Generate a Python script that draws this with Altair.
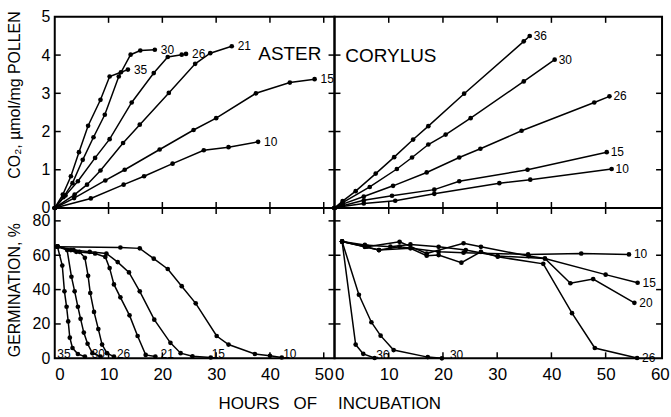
import altair as alt
import pandas as pd

FONT = "Liberation Sans Narrow, Liberation Sans, DejaVu Sans, sans-serif"

# ---------------- ASTER : CO2 output (hours, umol/mg) ----------------
A_CO2_35_H = [0, 1.5, 3.0, 4.5, 6.2, 8.5, 10.2, 12.3, 13.6]
A_CO2_35_V = [0, 0.35, 0.83, 1.46, 2.15, 2.83, 3.44, 3.55, 3.62]
A_CO2_30_H = [0, 1.6, 3.3, 5.2, 7.2, 9.3, 11.9, 14.1, 15.9, 18.6]
A_CO2_30_V = [0, 0.28, 0.65, 1.26, 1.85, 2.44, 3.44, 4.01, 4.12, 4.14]
A_CO2_26_H = [0, 2.0, 4.3, 7.5, 10.2, 14.3, 18.4, 21.0, 23.6, 24.4]
A_CO2_26_V = [0, 0.33, 0.70, 1.31, 1.80, 2.76, 3.53, 3.95, 4.01, 4.03]
A_CO2_21_H = [0, 3.7, 6.0, 8.5, 12.7, 15.8, 21.2, 26.1, 28.9, 32.9]
A_CO2_21_V = [0, 0.35, 0.61, 0.98, 1.70, 2.18, 3.01, 3.77, 4.05, 4.23]
A_CO2_15_H = [0, 3.6, 9.4, 13.0, 19.5, 25.8, 30.0, 37.4, 43.7, 48.3]
A_CO2_15_V = [0, 0.26, 0.72, 1.00, 1.53, 2.04, 2.35, 3.00, 3.28, 3.37]
A_CO2_10_H = [0, 6.7, 12.8, 16.6, 21.9, 27.7, 32.3, 37.8]
A_CO2_10_V = [0, 0.25, 0.61, 0.83, 1.16, 1.51, 1.59, 1.73]

# ---------------- CORYLUS : CO2 output ----------------
C_CO2_36_H = [0, 1.5, 3.9, 7.6, 11.0, 14.5, 17.3, 23.9, 34.9, 36.0]
C_CO2_36_V = [0, 0.18, 0.44, 0.90, 1.33, 1.79, 2.14, 2.99, 4.36, 4.50]
C_CO2_30_H = [0, 1.5, 6.5, 11.5, 14.3, 17.3, 20.5, 25.1, 34.9, 40.6]
C_CO2_30_V = [0, 0.14, 0.55, 1.02, 1.32, 1.66, 1.92, 2.35, 3.31, 3.88]
C_CO2_26_H = [0, 1.5, 5.4, 10.8, 17.0, 23.0, 26.9, 34.5, 47.9, 50.7]
C_CO2_26_V = [0, 0.10, 0.30, 0.58, 0.93, 1.32, 1.55, 2.02, 2.76, 2.92]
C_CO2_15_H = [0, 1.5, 5.4, 10.6, 18.4, 23.0, 35.6, 50.2]
C_CO2_15_V = [0, 0.06, 0.20, 0.32, 0.48, 0.70, 1.00, 1.46]
C_CO2_10_H = [0, 1.5, 5.4, 11.2, 18.4, 30.4, 36.1, 51.1]
C_CO2_10_V = [0, 0.04, 0.12, 0.19, 0.37, 0.65, 0.74, 1.02]

# ---------------- ASTER : germination (%) ----------------
A_G_35_H = [0.5, 1.4, 1.8, 2.2, 2.5, 2.8, 3.3, 4.3, 5.6]
A_G_35_V = [65, 54, 39, 30, 21.5, 12, 6, 2.5, 1]
A_G_30_H = [0.5, 2.3, 3.1, 3.7, 4.3, 4.8, 5.4, 6.1, 7.0, 8.5]
A_G_30_V = [65, 63, 47.5, 39, 30, 23, 15, 8.5, 3, 1]
A_G_26_H = [0.5, 3.0, 4.6, 5.6, 6.2, 6.6, 7.3, 8.1, 8.8, 9.7, 11.0]
A_G_26_V = [65, 63, 62, 58.5, 48, 38, 27, 17, 8, 3, 1]
A_G_21_H = [0.5, 4.0, 7.5, 9.4, 10.2, 11.0, 12.2, 13.9, 15.4, 16.9, 18.7]
A_G_21_V = [65, 62, 61, 59, 52.5, 43, 35.5, 25, 13, 2, 1]
A_G_15_H = [0.5, 3.5, 6.5, 9.6, 11.7, 13.8, 15.8, 18.5, 21.5, 23.4, 25.6, 29.0]
A_G_15_V = [65, 63, 62, 61, 56, 50, 39, 22.5, 9, 3, 1.2, 0.5]
A_G_10_H = [0.5, 12.2, 15.8, 18.4, 21.0, 23.6, 26.2, 30.1, 32.3, 37.2, 40.0, 42.2]
A_G_10_V = [65, 64.5, 64, 58, 52, 42, 32, 13, 8, 2.5, 1.5, 0.5]

# ---------------- CORYLUS : germination (%) ----------------
C_G_36_H = [1.4, 3.9, 5.3, 7.4]
C_G_36_V = [68, 8, 2.6, 0.2]
C_G_30_H = [1.4, 4.5, 6.8, 8.5, 10.9, 17.2, 19.8]
C_G_30_V = [68, 37, 21, 13.2, 4.8, 0.7, 0]
C_G_10_H = [1.4, 5.6, 8.2, 12.0, 19.2, 23.8, 35.7, 45.5, 54.3]
C_G_10_V = [68, 65, 63, 65, 62, 61.5, 60.5, 61, 60.5]
C_G_15_H = [1.4, 5.6, 10.3, 14.0, 19.2, 24.2, 30.1, 38.8, 50.0, 55.9]
C_G_15_V = [68, 66, 65, 66.3, 64.9, 63, 59.5, 58.1, 48.7, 44]
C_G_20_H = [1.4, 6.0, 12.0, 17.0, 23.8, 27.0, 35.8, 38.8, 43.5, 47.7, 55.3]
C_G_20_V = [68, 65, 67.8, 61, 67, 64.9, 59.5, 58.1, 43.7, 46.1, 32.3]
C_G_26_H = [1.4, 5.6, 8.2, 14.0, 17.0, 19.2, 23.4, 27.0, 30.1, 38.5, 43.8, 48.0, 55.8]
C_G_26_V = [68, 64.9, 63, 64, 59.7, 60.1, 55.7, 62, 59.1, 55, 26.3, 6, 0.2]

# placed labels (bottom panels) : text and anchor in data units
A_G_LAB_T = ["35", "30", "26", "21", "15", "10"]
A_G_LAB_H = [1.7, 8.1, 12.8, 20.9, 30.4, 43.7]
A_G_LAB_V = [2.3, 2.3, 2.3, 2.3, 2.3, 2.3]
C_G_LAB_T = ["36", "30"]
C_G_LAB_H = [8.9, 22.5]
C_G_LAB_V = [1.7, 1.7]

# axis tick values
A_X_TICKS = [0, 10, 20, 30, 40, 50]
C_X_TICKS = [0, 10, 20, 30, 40, 50, 60]
CO2_TICKS = [0, 1, 2, 3, 4, 5]
GERM_TICKS = [0, 20, 40, 60, 80]


def series(pairs):
    rows = []
    for name, hs, vs in pairs:
        for i, (h, v) in enumerate(zip(hs, vs)):
            rows.append({"s": name, "i": i, "h": h, "v": v})
    return pd.DataFrame(rows)


def ends(df):
    last = df.sort_values("i").groupby("s", sort=False).tail(1)
    return last.assign(t=last["s"])


TK = 6  # inward tick length


def panel(df, xdom, ydom, w, h, xaxis, yaxis, xt, yt, end_labels=True,
          placed=None, name=None, name_pos=None, end_dx=6):
    xs = alt.Scale(domain=xdom, nice=False, zero=False)
    ys = alt.Scale(domain=ydom, nice=False, zero=False)
    X = alt.X("h:Q", scale=xs, axis=xaxis)
    Y = alt.Y("v:Q", scale=ys, axis=yaxis)
    base = alt.Chart(df)
    layers = [
        base.mark_line(color="black", strokeWidth=1.5).encode(
            x=X, y=Y, detail="s:N", order="i:Q"),
        base.mark_circle(color="black", size=22, opacity=1).encode(x=X, y=Y),
    ]
    if end_labels:
        layers.append(alt.Chart(ends(df)).mark_text(
            align="left", baseline="middle", dx=end_dx, font=FONT,
            fontSize=12, color="black").encode(x=X, y=Y, text="t:N"))
    if placed is not None:
        layers.append(alt.Chart(placed).mark_text(
            align="center", baseline="middle", font=FONT, fontSize=12,
            color="black").encode(x=X, y=Y, text="t:N"))
    if name is not None:
        nd = pd.DataFrame({"h": [name_pos[0]], "v": [name_pos[1]], "t": [name]})
        layers.append(alt.Chart(nd).mark_text(
            align="center", baseline="middle", font=FONT, fontSize=19,
            color="black").encode(x=X, y=Y, text="t:N"))
    ytk = pd.DataFrame({"v": yt})
    xtk = pd.DataFrame({"h": xt})
    rule = dict(color="black", strokeWidth=1.5)
    layers += [
        alt.Chart(ytk).mark_rule(**rule).encode(y=Y, x=alt.value(0), x2=alt.value(TK)),
        alt.Chart(ytk).mark_rule(**rule).encode(y=Y, x=alt.value(w - TK), x2=alt.value(w)),
        alt.Chart(xtk).mark_rule(**rule).encode(x=X, y=alt.value(0), y2=alt.value(TK)),
        alt.Chart(xtk).mark_rule(**rule).encode(x=X, y=alt.value(h - TK), y2=alt.value(h)),
    ]
    return alt.layer(*layers).properties(width=w, height=h)


common_lab = dict(ticks=False, domain=False, grid=False, labelFont=FONT,
                  labelColor="black", titleFont=FONT,
                  titleFontWeight="normal", titleColor="black")

y_co2 = alt.Axis(values=CO2_TICKS, format="d", labelPadding=5, labelFontSize=16,
                 title="CO\u2082, \u00b5mol/mg POLLEN", titleAngle=270,
                 titleFontSize=16, titleX=-40, titleY=78, titleAlign="center",
                 titleBaseline="middle", **common_lab)
y_germ = alt.Axis(values=GERM_TICKS, format="d", labelPadding=5, labelFontSize=16,
                  title="GERMINATION, %", titleAngle=270, titleX=-40,
                  titleFontSize=16, titleY=82, titleAlign="center",
                  titleBaseline="middle", **common_lab)
x_aster = alt.Axis(values=A_X_TICKS, format="d", labelPadding=8, labelFontSize=17,
                   title="HOURS\u00a0\u00a0\u00a0OF", titleX=263, titleY=45,
                   titleFontSize=17, titleAlign="right", titleBaseline="middle",
                   **common_lab)
x_cory = alt.Axis(values=C_X_TICKS, format="d", labelPadding=8, labelFlush=1,
                  labelFontSize=17, title="INCUBATION", titleX=3, titleY=45,
                  titleFontSize=17, titleAlign="left", titleBaseline="middle",
                  **common_lab)

WA, WC, HT, HB = 281, 329, 192, 151
XA, XC = [0, 52], [0, 60.4]
YT, YB = [0, 5], [0, 87.5]

tl = panel(series([("35", A_CO2_35_H, A_CO2_35_V), ("30", A_CO2_30_H, A_CO2_30_V),
                   ("26", A_CO2_26_H, A_CO2_26_V), ("21", A_CO2_21_H, A_CO2_21_V),
                   ("15", A_CO2_15_H, A_CO2_15_V), ("10", A_CO2_10_H, A_CO2_10_V)]),
           XA, YT, WA, HT, None, y_co2, [10, 20, 30, 40, 50], [1, 2, 3, 4],
           name="ASTER", name_pos=(43.7, 4.03))
tr = panel(series([("36", C_CO2_36_H, C_CO2_36_V), ("30", C_CO2_30_H, C_CO2_30_V),
                   ("26", C_CO2_26_H, C_CO2_26_V), ("15", C_CO2_15_H, C_CO2_15_V),
                   ("10", C_CO2_10_H, C_CO2_10_V)]),
           XC, YT, WC, HT, None, None, [10, 20, 30, 40, 50], [1, 2, 3, 4],
           name="CORYLUS", name_pos=(10.4, 3.97), end_dx=4)
bl = panel(series([("35", A_G_35_H, A_G_35_V), ("30", A_G_30_H, A_G_30_V),
                   ("26", A_G_26_H, A_G_26_V), ("21", A_G_21_H, A_G_21_V),
                   ("15", A_G_15_H, A_G_15_V), ("10", A_G_10_H, A_G_10_V)]),
           XA, YB, WA, HB, x_aster, y_germ, [10, 20, 30, 40, 50], [20, 40, 60, 80],
           end_labels=False,
           placed=pd.DataFrame({"h": A_G_LAB_H, "v": A_G_LAB_V, "t": A_G_LAB_T}))
c_germ = series([("10", C_G_10_H, C_G_10_V), ("15", C_G_15_H, C_G_15_V),
                 ("20", C_G_20_H, C_G_20_V), ("26", C_G_26_H, C_G_26_V),
                 ("36", C_G_36_H, C_G_36_V), ("30", C_G_30_H, C_G_30_V)])
br = panel(c_germ, XC, YB, WC, HB, x_cory, None, [10, 20, 30, 40, 50], [20, 40, 60, 80],
           end_labels=False,
           placed=pd.DataFrame({"h": C_G_LAB_H, "v": C_G_LAB_V, "t": C_G_LAB_T}))
# end labels for the four slow curves of the Corylus germination panel
br_ends = ends(c_germ[c_germ["s"].isin(["10", "15", "20", "26"])])
br = alt.layer(
    br,
    alt.Chart(br_ends).mark_text(align="left", baseline="middle", dx=5, font=FONT,
                                 fontSize=12, color="black").encode(
        x=alt.X("h:Q", scale=alt.Scale(domain=XC, nice=False, zero=False), axis=x_cory),
        y=alt.Y("v:Q", scale=alt.Scale(domain=YB, nice=False, zero=False), axis=None),
        text="t:N"),
)

chart = alt.concat(tl, tr, bl, br, columns=2, spacing=0, bounds="flush",
                   align="each").properties(
    padding={"left": 5, "top": 7, "right": 0, "bottom": 0},
    background="white",
).configure_view(stroke="black", strokeWidth=2)

chart.save("out.html", embed_options={"renderer": "svg", "actions": False})
